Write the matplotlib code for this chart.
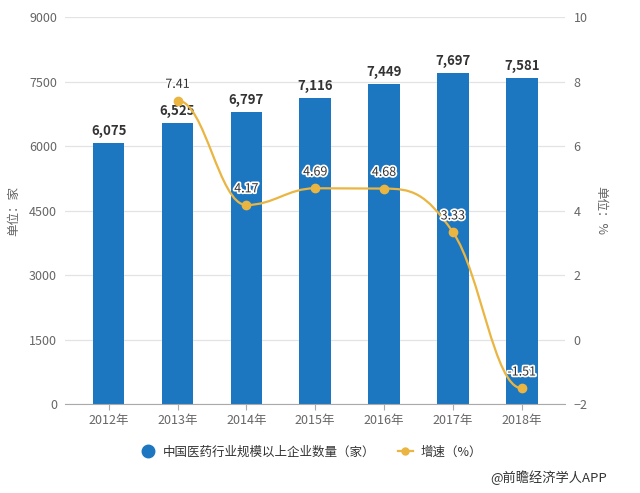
import numpy as np
import matplotlib
matplotlib.use("Agg")
import matplotlib.pyplot as plt
import matplotlib.patheffects as pe
from matplotlib.path import Path
from matplotlib.patches import PathPatch
from matplotlib.lines import Line2D

plt.rcParams['font.family'] = ['Noto Sans CJK SC', 'DejaVu Sans']

years = ['2012年', '2013年', '2014年', '2015年', '2016年', '2017年', '2018年']
companies = [6075, 6525, 6797, 7116, 7449, 7697, 7581]
growth_years = [1, 2, 3, 4, 5, 6]
growth = [7.41, 4.17, 4.69, 4.68, 3.33, -1.51]

bar_color = '#1c76c0'
line_color = '#eab541'
text_color = '#666666'
grid_color = '#e3e3e3'

fig = plt.figure(figsize=(6.4, 4.93), dpi=100)
ax = fig.add_axes([0.102, 0.1805, 0.781, 0.785])
ax2 = ax.twinx()

x = np.arange(len(years))
ax.bar(x, companies, width=0.46, color=bar_color, zorder=2)
for xi, v in zip(x, companies):
    ax.text(xi, v + 120, f'{v:,}', ha='center', va='bottom', fontsize=9.5,
            fontweight='bold', color='#333333', zorder=5)

ax.set_ylim(0, 9000)
ax.set_yticks(np.arange(0, 9001, 1500))
ax.set_xlim(-0.63, 6.63)
ax.set_xticks(x)
ax.set_xticklabels(years)
ax.yaxis.grid(True, color=grid_color, linewidth=0.9, zorder=0)
ax.set_axisbelow(True)
for s in ['top', 'left', 'right']:
    ax.spines[s].set_visible(False)
ax.spines['bottom'].set_color('#aaaaaa')
ax.tick_params(axis='y', length=0, labelsize=9, labelcolor=text_color, pad=6)
ax.tick_params(axis='x', length=4, color='#aaaaaa', labelsize=9, labelcolor=text_color, pad=3)
ax.set_ylabel('单位：家', color=text_color, fontsize=9, labelpad=6)

# smooth growth line (bezier through the data points)
gx = np.array(growth_years, dtype=float)
gy = np.array(growth, dtype=float)
n = len(gx)
tang = np.zeros(n)
for i in range(1, n - 1):
    d0 = gy[i] - gy[i - 1]
    d1 = gy[i + 1] - gy[i]
    if d0 * d1 > 0 and abs(d0) >= 0.05 and abs(d1) >= 0.05:
        tang[i] = (d0 + d1) / 2
verts = [(gx[0], gy[0])]
codes = [Path.MOVETO]
for i in range(n - 1):
    h = (gx[i + 1] - gx[i]) / 2.5
    verts += [(gx[i] + h, gy[i] + tang[i] * h),
              (gx[i + 1] - h, gy[i + 1] - tang[i + 1] * h),
              (gx[i + 1], gy[i + 1])]
    codes += [Path.CURVE4] * 3
ax2.add_patch(PathPatch(Path(verts, codes), fill=False, edgecolor=line_color,
                        linewidth=1.6, zorder=3))
ax2.plot(gx, gy, 'o', color=line_color, markersize=6, zorder=4)
for xi, v in zip(gx, gy):
    ax2.text(xi, v + 0.3, f'{v:.2f}', ha='center', va='bottom', fontsize=9,
             color='#333333', zorder=6,
             path_effects=[pe.withStroke(linewidth=2.5, foreground='white')])

ax2.set_ylim(-2, 10)
ax2.set_yticks(np.arange(-2, 11, 2))
for s in ['top', 'left', 'right', 'bottom']:
    ax2.spines[s].set_visible(False)
ax2.tick_params(axis='y', length=0, labelsize=9, labelcolor=text_color, pad=6)
ax2.set_ylabel('单位：%', color=text_color, fontsize=9, rotation=270, labelpad=14)

handles = [Line2D([], [], marker='o', linestyle='none', color=bar_color, markersize=9),
           Line2D([], [], marker='o', color=line_color, markersize=5, linewidth=1.6)]
labels = ['中国医药行业规模以上企业数量（家）', '增速（%）']
fig.legend(handles, labels, loc='center', bbox_to_anchor=(0.486, 0.083), ncol=2,
           frameon=False, fontsize=9, handlelength=1.2, columnspacing=1.8,
           handletextpad=0.6, labelcolor='#333333')

fig.text(0.948, 0.032, '@前瞻经济学人APP', ha='right', va='center', fontsize=9.5,
         color='#333333')

fig.savefig('out.png', dpi=100, facecolor='white')
